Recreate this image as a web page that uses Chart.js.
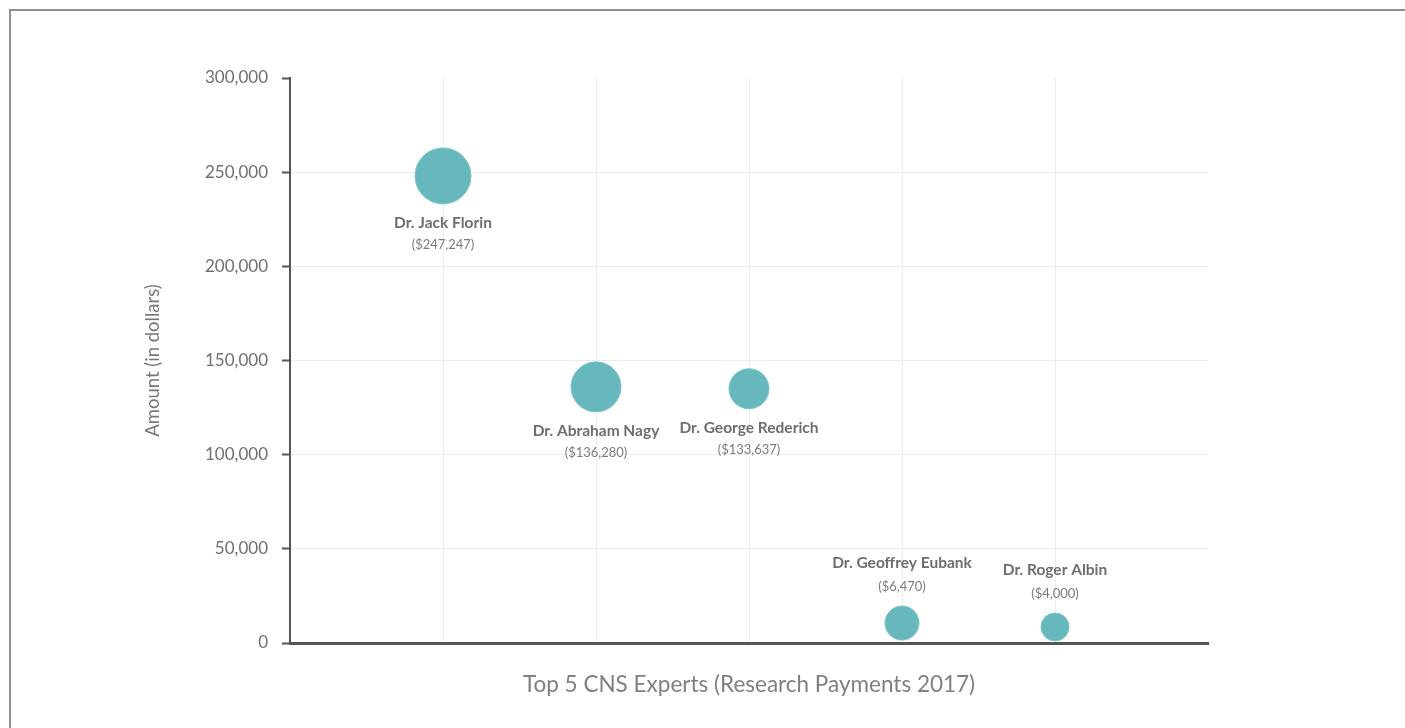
<!DOCTYPE html>
<html lang="en">
<head>
    <meta charset="UTF-8">
    <title>Top 5 CNS Experts</title>
    <script src="https://cdn.jsdelivr.net/npm/chart.js"></script>
    <style>
        html, body { margin: 0; padding: 0; background: #fff; overflow: hidden; }
        .frame {
            position: absolute; left: 9px; top: 9px; width: 1500px; height: 800px;
            border-top: 2px solid #8e8e8e; border-left: 2px solid #8e8e8e;
            pointer-events: none;
        }
        #chart { position: absolute; left: 0; top: 0; }
    </style>
</head>
<body>
    <canvas id="chart" width="1405" height="728"></canvas>
    <div class="frame"></div>

    <script>
        // data
        const experts = ['Dr. Jack Florin', 'Dr. Abraham Nagy', 'Dr. George Rederich', 'Dr. Geoffrey Eubank', 'Dr. Roger Albin'];
        const payments = [247247, 136280, 133637, 6470, 4000];
        const plotY = [248000, 136000, 135000, 10600, 8500];
        const bubbleR = [28, 25, 20, 17, 14];
        const xPos = [1, 2, 3, 4, 5];

        const fmt = v => v.toLocaleString('en-US');

        const points = xPos.map((x, i) => ({ x: x, y: plotY[i], r: bubbleR[i] }));

        // names + amounts next to each bubble
        const bubbleLabels = {
            id: 'bubbleLabels',
            afterDatasetsDraw(chart) {
                const ctx = chart.ctx;
                const meta = chart.getDatasetMeta(0);
                ctx.save();
                ctx.textAlign = 'center';
                ctx.textBaseline = 'middle';
                meta.data.forEach((el, i) => {
                    const r = bubbleR[i];
                    const above = el.y > chart.chartArea.bottom - 80;
                    const nameY = above ? el.y - r - 43 : el.y + r + 19;
                    const amtY = above ? el.y - r - 19 : el.y + r + 41;
                    ctx.fillStyle = '#6e6e6e';
                    ctx.font = 'bold 15.5px Lato';
                    ctx.fillText(experts[i], el.x, nameY);
                    ctx.fillStyle = '#7c7c7c';
                    ctx.font = '13px Lato';
                    ctx.fillText('($' + fmt(payments[i]) + ')', el.x, amtY);
                });
                ctx.restore();
            }
        };

        new Chart(document.getElementById('chart').getContext('2d'), {
            type: 'bubble',
            data: {
                datasets: [{
                    data: points,
                    backgroundColor: '#66b8bd',
                    borderColor: '#7cc4c8',
                    borderWidth: 1,
                    hoverRadius: 0
                }]
            },
            options: {
                responsive: false,
                animation: false,
                layout: { padding: { left: 0, top: 78, right: 197, bottom: 0 } },
                plugins: { legend: { display: false }, tooltip: { enabled: false } },
                scales: {
                    x: {
                        type: 'linear',
                        min: 0,
                        max: 6,
                        afterFit: s => { s.height = 85; },
                        ticks: { display: false, stepSize: 1 },
                        grid: {
                            drawTicks: false,
                            color: c => (c.tick.value > 0 && c.tick.value < 6) ? '#ececec' : 'rgba(0,0,0,0)'
                        },
                        border: { color: '#555', width: 3 },
                        title: {
                            display: true,
                            text: 'Top 5 CNS Experts (Research Payments 2017)',
                            color: '#808080',
                            font: { family: 'Lato', size: 22.5 },
                            padding: { top: 0, bottom: 30 }
                        }
                    },
                    y: {
                        min: 0,
                        max: 300000,
                        afterFit: s => { s.width = 290; },
                        ticks: {
                            stepSize: 50000,
                            color: '#6f6f6f',
                            font: { family: 'Lato', size: 17 },
                            padding: 14,
                            callback: v => fmt(v)
                        },
                        grid: {
                            tickLength: 8,
                            tickColor: '#555',
                            tickWidth: 2,
                            color: c => c.tick.value === 300000 ? 'rgba(0,0,0,0)' : '#ececec'
                        },
                        border: { color: '#555', width: 2 },
                        title: {
                            display: true,
                            text: 'Amount (in dollars)',
                            color: '#777',
                            font: { family: 'Lato', size: 18.5 },
                            padding: { top: 142, bottom: 0 }
                        }
                    }
                }
            },
            plugins: [bubbleLabels]
        });
    </script>
</body>
</html>
